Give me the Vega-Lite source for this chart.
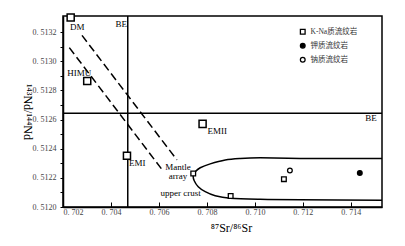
{
  "$schema": "https://vega.github.io/schema/vega-lite/v6.json",
  "width": 319,
  "height": 191,
  "autosize": "none",
  "padding": {"left": 63, "top": 16, "right": 23, "bottom": 39},
  "background": "white",
  "config": {
    "view": {"stroke": "black", "strokeWidth": 1.5},
    "axis": {
      "domainColor": "black", "domainWidth": 1.5, "tickColor": "black", "tickWidth": 1,
      "grid": false, "labelFont": "Liberation Serif", "labelFontSize": 8, "labelColor": "#444",
      "titleFont": "Liberation Serif", "titleFontSize": 12, "titleFontWeight": "normal", "titleColor": "black"
    },
    "legend": {"labelFont": "Liberation Serif, Noto Sans CJK SC", "labelFontSize": 7.5, "labelColor": "#333"}
  },
  "datasets": {
    "curve": [
      {"x": 0.7153, "y": 0.512333, "o": 1},
      {"x": 0.711888, "y": 0.512333, "o": 2},
      {"x": 0.710221, "y": 0.512337, "o": 3},
      {"x": 0.709388, "y": 0.512333, "o": 4},
      {"x": 0.708763, "y": 0.512323, "o": 5},
      {"x": 0.708138, "y": 0.512296, "o": 6},
      {"x": 0.707721, "y": 0.512269, "o": 7},
      {"x": 0.707513, "y": 0.512241, "o": 8},
      {"x": 0.707429, "y": 0.512214, "o": 9},
      {"x": 0.707471, "y": 0.51218, "o": 10},
      {"x": 0.707638, "y": 0.512139, "o": 11},
      {"x": 0.707929, "y": 0.512105, "o": 12},
      {"x": 0.708346, "y": 0.512077, "o": 13},
      {"x": 0.708971, "y": 0.51206, "o": 14},
      {"x": 0.710221, "y": 0.512053, "o": 15},
      {"x": 0.711888, "y": 0.51205, "o": 16},
      {"x": 0.7153, "y": 0.512046, "o": 17}
    ],
    "mantle": [
      {"line": "upper", "x": 0.702792, "y": 0.513177},
      {"line": "upper", "x": 0.70675, "y": 0.512323},
      {"line": "lower", "x": 0.702263, "y": 0.513093},
      {"line": "lower", "x": 0.706192, "y": 0.512243}
    ],
    "endmembers": [
      {"name": "DM", "x": 0.70232, "y": 0.5133},
      {"name": "HIMU", "x": 0.70301, "y": 0.512864},
      {"name": "EMI", "x": 0.704667, "y": 0.512352},
      {"name": "EMII", "x": 0.70782, "y": 0.51257}
    ],
    "samples": [
      {"type": "K-Na质流纹岩", "x": 0.70743, "y": 0.51223},
      {"type": "K-Na质流纹岩", "x": 0.70899, "y": 0.512075},
      {"type": "K-Na质流纹岩", "x": 0.71121, "y": 0.512191},
      {"type": "钾质流纹岩", "x": 0.714375, "y": 0.512234},
      {"type": "钠质流纹岩", "x": 0.71146, "y": 0.51225}
    ],
    "labels": [
      {"text": "DM", "x": 0.702596, "y": 0.513234},
      {"text": "HIMU", "x": 0.70268, "y": 0.512918},
      {"text": "EMI", "x": 0.705096, "y": 0.5123},
      {"text": "EMII", "x": 0.708429, "y": 0.512521},
      {"text": "Mantle\narray", "x": 0.70679, "y": 0.512272},
      {"text": "upper crust", "x": 0.706908, "y": 0.512096},
      {"text": "BE", "x": 0.704429, "y": 0.513257},
      {"text": "BE", "x": 0.714846, "y": 0.51261}
    ],
    "hline": [{"y": 0.512643}],
    "vline": [{"x": 0.7047}]
  },
  "encoding": {
    "x": {
      "field": "x", "type": "quantitative",
      "scale": {"domain": [0.702, 0.7153], "nice": false, "zero": false},
      "axis": {
        "title": "⁸⁷Sr/⁸⁶Sr", "values": [0.702, 0.704, 0.706, 0.708, 0.71, 0.712, 0.714],
        "labelExpr": "replace(format(datum.value, '.3f'), '.', '. ')",
        "tickSize": -5, "labelPadding": 6, "titlePadding": 6, "titleX": 168
      }
    },
    "y": {
      "field": "y", "type": "quantitative",
      "scale": {"domain": [0.512, 0.51331], "nice": false, "zero": false},
      "axis": {
        "title": "¹⁴³Nd/¹⁴⁴Nd", "titleAngle": 90,
        "values": [0.512, 0.5121, 0.5122, 0.5123, 0.5124, 0.5125, 0.5126, 0.5127, 0.5128, 0.5129, 0.513, 0.5131, 0.5132],
        "labelExpr": "round(datum.value * 10000) % 2 == 0 ? replace(format(datum.value, '.4f'), '.', '. ') : ''",
        "tickSize": 3, "labelPadding": 4, "titlePadding": 12
      }
    }
  },
  "layer": [
    {"data": {"name": "hline"}, "mark": {"type": "rule", "color": "black", "strokeWidth": 1.5}, "encoding": {"x": null}},
    {"data": {"name": "vline"}, "mark": {"type": "rule", "color": "black", "strokeWidth": 1.5}, "encoding": {"y": null}},
    {
      "data": {"name": "mantle"},
      "mark": {"type": "line", "color": "black", "strokeWidth": 1.5, "strokeDash": [8, 4]},
      "encoding": {"detail": {"field": "line"}}
    },
    {
      "data": {"name": "curve"},
      "mark": {"type": "line", "color": "black", "strokeWidth": 1.5, "interpolate": "cardinal", "clip": true},
      "encoding": {"order": {"field": "o", "type": "quantitative"}}
    },
    {
      "data": {"name": "endmembers"},
      "mark": {"type": "point", "shape": "square", "size": 50, "filled": false, "stroke": "black", "strokeWidth": 1.5, "fill": "white", "fillOpacity": 1}
    },
    {
      "data": {"name": "samples"},
      "mark": {"type": "point", "filled": true, "stroke": "black", "strokeWidth": 1.3, "size": 22, "opacity": 1},
      "encoding": {
        "shape": {"field": "type", "type": "nominal", "scale": {"domain": ["K-Na质流纹岩", "钾质流纹岩", "钠质流纹岩"], "range": ["square", "circle", "circle"]}, "legend": null},
        "color": {"field": "type", "type": "nominal", "scale": {"domain": ["K-Na质流纹岩", "钾质流纹岩", "钠质流纹岩"], "range": ["white", "black", "white"]},
          "legend": {"title": null, "orient": "none", "legendX": 236, "legendY": 12, "padding": 0, "rowPadding": 3, "symbolSize": 22, "symbolStrokeColor": "black", "symbolStrokeWidth": 1.3}}
      }
    },
    {
      "data": {"name": "labels"},
      "mark": {"type": "text", "font": "Liberation Serif", "fontSize": 9, "color": "black", "align": "center", "baseline": "middle", "lineHeight": 8.5, "lineBreak": "\n"},
      "encoding": {"text": {"field": "text"}}
    }
  ]
}
